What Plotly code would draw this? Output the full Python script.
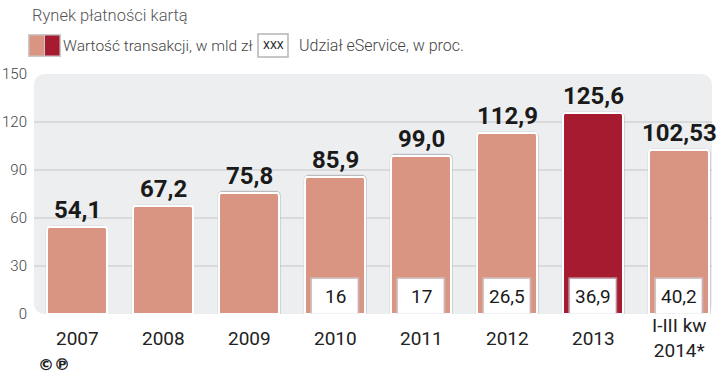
import plotly.graph_objects as go

# ---- data ----
CATEGORIES = ["2007", "2008", "2009", "2010", "2011", "2012", "2013", "I-III kw<br>2014*"]
VALUES = [54.1, 67.2, 75.8, 85.9, 99.0, 112.9, 125.6, 102.53]
SHARE = [None, None, None, 16, 17, 26.5, 36.9, 40.2]
Y_TICKS = [0, 30, 60, 90, 120, 150]
HIGHLIGHT = "2013"

# ---- style ----
SALMON = "#DA9582"
DARK = "#A61B30"
BG = "#EDEEEF"
GRID = "#C6C7C8"
FONT = "Roboto, sans-serif"
W, H = 720, 373
ML, MR, MT, MB = 34, 8, 74, 59
PW, PH = W - ML - MR, H - MT - MB
BOX_H = 22  # height of white share boxes (axis units)


def px(xp):
    return (xp - ML) / PW


def py(yp):
    return (H - MB - yp) / PH


def fmt(v):
    return str(v).replace(".", ",")


x = list(range(len(CATEGORIES)))
colors = [DARK if c == HIGHLIGHT else SALMON for c in CATEGORIES]

fig = go.Figure()

fig.add_trace(go.Bar(x=x, y=[v + 0.9 for v in VALUES], width=0.73,
                     marker=dict(color="rgba(110,110,110,0.45)", cornerradius=5),
                     hoverinfo="skip", showlegend=False))
fig.add_trace(go.Bar(x=x, y=VALUES, width=0.70,
                     marker=dict(color=colors, line=dict(color="white", width=2), cornerradius=4),
                     showlegend=False))

sx = [i for i, s in enumerate(SHARE) if s is not None]
sv = [s for s in SHARE if s is not None]
fig.add_trace(go.Bar(x=sx, y=[BOX_H + 0.8] * len(sx), width=0.555,
                     marker=dict(color="rgba(110,110,110,0.45)", cornerradius=5),
                     hoverinfo="skip", showlegend=False))
fig.add_trace(go.Bar(x=sx, y=[BOX_H] * len(sx), width=0.535,
                     marker=dict(color="white", cornerradius=4),
                     showlegend=False))

shapes = []
r = 12
x0, x1, y0, y1 = 0, 1, 0, 1
rx, ry = r / PW, r / PH
path = (f"M {x0+rx},{y1} L {x1-rx},{y1} Q {x1},{y1} {x1},{y1-ry} L {x1},{y0+ry} "
        f"Q {x1},{y0} {x1-rx},{y0} L {x0+rx},{y0} Q {x0},{y0} {x0},{y0+ry} "
        f"L {x0},{y1-ry} Q {x0},{y1} {x0+rx},{y1} Z")
shapes.append(dict(type="path", path=path, xref="paper", yref="paper",
                   fillcolor=BG, line=dict(width=0), layer="below"))
for t in Y_TICKS[1:-1]:
    shapes.append(dict(type="line", xref="paper", yref="y", x0=0, x1=1, y0=t, y1=t,
                       line=dict(color=GRID, width=1), layer="below"))

# legend swatches
shapes.append(dict(type="rect", xref="paper", yref="paper", x0=px(28), x1=px(61), y0=py(57), y1=py(34),
                   fillcolor="#C9C9C9", line=dict(width=0)))
shapes.append(dict(type="rect", xref="paper", yref="paper", x0=px(29.5), x1=px(44), y0=py(55.5), y1=py(35.5),
                   fillcolor=SALMON, line=dict(width=0)))
shapes.append(dict(type="rect", xref="paper", yref="paper", x0=px(45), x1=px(59.5), y0=py(55.5), y1=py(35.5),
                   fillcolor=DARK, line=dict(width=0)))
shapes.append(dict(type="rect", xref="paper", yref="paper", x0=px(258), x1=px(288), y0=py(57), y1=py(34),
                   fillcolor="white", line=dict(color="#B5B5B5", width=1.5)))

ann = []
for i, v in enumerate(VALUES):
    ann.append(dict(x=i, y=v, xref="x", yref="y", text=f"<b>{fmt(v)}</b>", showarrow=False,
                    yanchor="bottom", yshift=1, font=dict(family=FONT, size=24, color="#1a1a1a")))
for i, s in zip(sx, sv):
    ann.append(dict(x=i, y=BOX_H / 2, xref="x", yref="y", text=fmt(s), showarrow=False,
                    yanchor="middle", font=dict(family=FONT, size=19, color="#1a1a1a")))
for i, c in enumerate(CATEGORIES):
    ann.append(dict(x=i, y=py(338), xref="x", yref="paper", text=c, showarrow=False,
                    yanchor="middle", font=dict(family=FONT, size=19, color="#222", weight=400)))

ann += [
    dict(x=px(30), y=py(15), xref="paper", yref="paper", text="Rynek płatności kartą", showarrow=False,
         xanchor="left", yanchor="middle", font=dict(family=FONT, size=16.5, color="#555", weight=300)),
    dict(x=px(61), y=py(46), xref="paper", yref="paper", text="Wartość transakcji, w mld zł", showarrow=False,
         xanchor="left", yanchor="middle", font=dict(family=FONT, size=15.5, color="#444", weight=300)),
    dict(x=px(273), y=py(46), xref="paper", yref="paper", text="XXX", showarrow=False,
         xanchor="center", yanchor="middle", font=dict(family=FONT, size=11, color="#222")),
    dict(x=px(297), y=py(46), xref="paper", yref="paper", text="Udział eService, w proc.", showarrow=False,
         xanchor="left", yanchor="middle", font=dict(family=FONT, size=16, color="#444", weight=300)),
    dict(x=px(36), y=py(364), xref="paper", yref="paper", text="<b>©℗</b>", showarrow=False,
         xanchor="left", yanchor="middle", font=dict(family="DejaVu Sans", size=16, color="#222")),
]

fig.update_layout(
    width=W, height=H, margin=dict(l=ML, r=MR, t=MT, b=MB, autoexpand=False),
    paper_bgcolor="white", plot_bgcolor="rgba(0,0,0,0)",
    barmode="overlay", bargap=0, showlegend=False,
    shapes=shapes, annotations=ann,
    xaxis=dict(range=[-0.5, 7.38], showticklabels=False, showgrid=False, zeroline=False,
               showline=False, fixedrange=True, automargin=False),
    yaxis=dict(range=[0, 150], tickvals=Y_TICKS, showgrid=False, zeroline=False, showline=False,
               ticks="", automargin=False, ticklabelstandoff=6,
               tickfont=dict(family=FONT, size=15, color="#444", weight=300), fixedrange=True),
)

fig.write_html("out.html", config={"displayModeBar": False},
               post_script="document.body.style.margin='0';document.body.style.overflow='hidden';")
